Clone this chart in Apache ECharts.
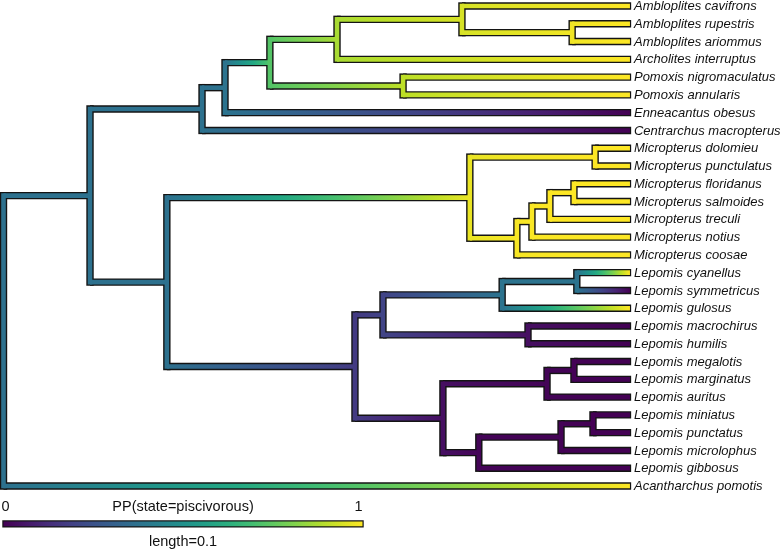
<!DOCTYPE html>
<html><head><meta charset="utf-8">
<script src="https://cdn.jsdelivr.net/npm/echarts@6/dist/echarts.min.js"></script>
<style>html,body{margin:0;padding:0;background:#fff}#c{width:780px;height:550px}</style>
</head><body><div id="c"></div>
<script>
// ---- data ----
const tipNames = ['Ambloplites cavifrons','Ambloplites rupestris','Ambloplites ariommus','Archolites interruptus',
  'Pomoxis nigromaculatus','Pomoxis annularis','Enneacantus obesus','Centrarchus macropterus',
  'Micropterus dolomieu','Micropterus punctulatus','Micropterus floridanus','Micropterus salmoides',
  'Micropterus treculi','Micropterus notius','Micropterus coosae','Lepomis cyanellus','Lepomis symmetricus',
  'Lepomis gulosus','Lepomis macrochirus','Lepomis humilis','Lepomis megalotis','Lepomis marginatus',
  'Lepomis auritus','Lepomis miniatus','Lepomis punctatus','Lepomis microlophus','Lepomis gibbosus',
  'Acantharchus pomotis'];
const tipStates = [1,1,1,1, 1,1,0,0, 1,1,1,1, 1,1,1, 1,0,1, 0,0,0,0, 0,0,0,0,0, 1];
const tipDepth = 0.1745;
// internal nodes: id, depth (tree units), state (posterior prob.), children (number = tip index, string = node id)
const nodeIds   = ['root','A','B','D','E','F','H','I','G','C','J','K','L','M','N','O','P','Q','S','U','T','R','V','X','W','Y','Z'];
const nodeDepth = [0,0.0241,0.0553,0.0617,0.0742,0.0929,0.1277,0.1584,0.1113,0.0455,0.1299,0.1648,0.1430,0.1472,0.1522,0.1589,
                   0.0979,0.1057,0.1389,0.1597,0.1461,0.1224,0.1514,0.1589,0.1324,0.1553,0.1642];
const nodeState = [0.37,0.37,0.37,0.38,0.73,0.87,0.94,0.98,0.90,0.37,0.97,1.0,0.99,0.995,1.0,1.0,
                   0.17,0.20,0.38,0.38,0.04,0.04,0.01,0.005,0.01,0.005,0.0];
const nodeKids  = [['A',27],['B','C'],['D',7],['E',6],['F','G'],['H',3],[0,'I'],[1,2],[4,5],['J','P'],['K','L'],[8,9],
                   ['M',14],['N',13],['O',12],[10,11],['Q','R'],['S','T'],['U',17],[15,16],[18,19],['V','W'],['X',22],
                   [20,21],['Y',26],['Z',25],[23,24]];
const scaleLength = 0.1;
const legendTitle = 'PP(state=piscivorous)';
const legendTicks = ['0','1'];

// ---- viridis palette ----
const VIR = ['#440154','#482475','#414487','#355f8d','#2a788e','#21918c','#22a884','#44bf70','#7ad151','#bddf26','#fde725'];
const VRGB = VIR.map(h => [1,3,5].map(i => parseInt(h.substr(i,2),16)));
function vir(t){
  t = Math.max(0, Math.min(1, t));
  const p = t*10, i = Math.min(9, Math.floor(p)), f = p - i;
  const a = VRGB[i], b = VRGB[i+1];
  return 'rgb(' + a.map((v,k)=>Math.round(v + (b[k]-v)*f)).join(',') + ')';
}

// ---- layout: node y = mean of children ----
const idx = {}; nodeIds.forEach((n,i)=>idx[n]=i);
const nodeY = new Array(nodeIds.length);
function yOf(c){ return typeof c === 'number' ? c : nodeYc(idx[c]); }
function nodeYc(i){
  if (nodeY[i] === undefined){ const k = nodeKids[i]; nodeY[i] = (yOf(k[0]) + yOf(k[k.length-1]))/2; }
  return nodeY[i];
}
nodeIds.forEach((n,i)=>nodeYc(i));

// segments: [x1,y1,x2,y2,s1,s2,kind]  kind 0=internal edge,1=tip edge,2=vertical,3=color bar
const segs = [];
nodeIds.forEach((n,i)=>{
  const k = nodeKids[i];
  k.forEach(c=>{
    if (typeof c === 'number') segs.push([nodeDepth[i], c, tipDepth, c, nodeState[i], tipStates[c], 1]);
    else { const j = idx[c]; segs.push([nodeDepth[i], nodeY[j], nodeDepth[j], nodeY[j], nodeState[i], nodeState[j], 0]); }
  });
});
nodeIds.forEach((n,i)=>{
  const k = nodeKids[i];
  segs.push([nodeDepth[i], yOf(k[0]), nodeDepth[i], yOf(k[k.length-1]), nodeState[i], nodeState[i], 2]);
});
const barY = 29.13;
segs.push([0, barY, scaleLength, barY, 0, 1, 3]);

const OUTW = 7.4, INW = 4.6;
function renderSeg(outline){
  return function(params, api){
    const x1 = api.value(0), y1 = api.value(1), x2 = api.value(2), y2 = api.value(3);
    const s1 = api.value(4), s2 = api.value(5), kind = api.value(6);
    const p1 = api.coord([x1,y1]), p2 = api.coord([x2,y2]);
    if (outline){
      let a = p1.slice(), b = p2.slice(), cap = 'butt';
      if (kind === 2) cap = 'square';
      if (kind === 1) b[0] += 1.2;
      if (kind === 3){ a[0] -= 1.2; b[0] += 1.2; }
      return {type:'line', shape:{x1:a[0],y1:a[1],x2:b[0],y2:b[1]}, style:{stroke:'#141414', lineWidth:OUTW, lineCap:cap}};
    }
    let stroke;
    if (kind === 2) stroke = vir(s1);
    else {
      const stops = [];
      for (let k=0;k<=16;k++){ const t=k/16; stops.push({offset:t, color: vir(s1 + (s2-s1)*t)}); }
      stroke = new echarts.graphic.LinearGradient(p1[0], p1[1], p2[0], p2[1], stops, true);
    }
    return {type:'line', shape:{x1:p1[0],y1:p1[1],x2:p2[0],y2:p2[1]},
            style:{stroke, lineWidth:INW, lineCap: kind===2 ? 'square' : 'butt'}};
  };
}

const FONT = '"Liberation Sans", Arial, Helvetica, sans-serif';
const textData = tipNames.map((n,i)=>[tipDepth, i, i]);

const chart = echarts.init(document.getElementById('c'), null, {renderer:'canvas'});
chart.setOption({
  animation:false,
  grid:{left:3.5, right:58.5, top:6, bottom:10.67},
  xAxis:{type:'value', min:0, max:0.2, show:false},
  yAxis:{type:'value', min:0, max:30, inverse:true, show:false},
  series:[
    {type:'custom', coordinateSystem:'cartesian2d', data:segs, renderItem:renderSeg(true), clip:false, z:1, silent:true},
    {type:'custom', coordinateSystem:'cartesian2d', data:segs.filter(s=>s[6]!==2), renderItem:renderSeg(false), clip:false, z:2, silent:true},
    {type:'custom', coordinateSystem:'cartesian2d', data:segs.filter(s=>s[6]===2), renderItem:renderSeg(false), clip:false, z:3, silent:true},
    {type:'custom', coordinateSystem:'cartesian2d', data:textData, clip:false, z:4, silent:true,
      renderItem:function(params, api){
        const p = api.coord([api.value(0), api.value(1)]);
        return {type:'text', x:p[0]+4, y:p[1]+0.5, style:{text: tipNames[api.value(2)], fill:'#111',
          font:'italic 13px ' + FONT, textAlign:'left', textVerticalAlign:'middle'}};
      }},
    {type:'custom', coordinateSystem:'cartesian2d', clip:false, z:4, silent:true,
      data:[[0,28.18,0],[scaleLength/2,28.18,1],[scaleLength,28.18,2],[scaleLength/2,30.15,3]],
      renderItem:function(params, api){
        const p = api.coord([api.value(0), api.value(1)]);
        const k = api.value(2);
        const txt = [legendTicks[0], legendTitle, legendTicks[1], 'length=' + scaleLength][k];
        const al = k===0 ? 'left' : (k===2 ? 'right' : 'center');
        return {type:'text', x:p[0] + (k===0 ? -2 : 0), y:p[1],
          style:{text: txt, fill:'#111', font:'14.5px ' + FONT, textAlign:al, textVerticalAlign:'middle'}};
      }}
  ]
});
</script></body></html>
